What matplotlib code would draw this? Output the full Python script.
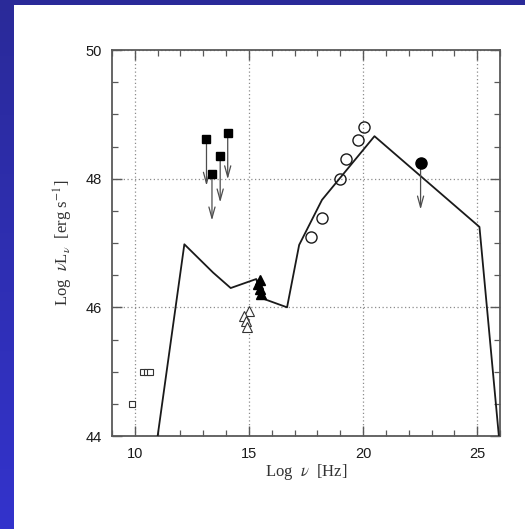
import matplotlib.pyplot as plt
import matplotlib.patches as mpatches
import numpy as np
from matplotlib.ticker import MultipleLocator

plt.rcParams['mathtext.fontset'] = 'stix'

# model SED (broken line)
model_x = [11.0, 12.17, 13.43, 14.2, 15.32, 15.58, 16.67, 17.2, 18.2, 20.5, 25.1, 25.95]
model_y = [44.0, 46.98, 46.54, 46.3, 46.44, 46.14, 46.0, 46.97, 47.67, 48.66, 47.25, 44.0]

# radio points (open squares)
radio_x = [9.88, 10.35, 10.52, 10.68]
radio_y = [44.5, 45.0, 45.0, 45.0]

# IR upper limits (filled squares)
ir_x = [13.14, 13.38, 13.74, 14.07]
ir_y = [48.61, 48.07, 48.35, 48.71]

# optical / UV (open and filled triangles)
opt_x = [15.0, 14.8, 14.85, 14.93]
opt_y = [45.95, 45.87, 45.79, 45.7]
uv_x = [15.47, 15.4, 15.47, 15.54]
uv_y = [46.43, 46.36, 46.28, 46.2]

# X-ray (open circles)
xr_x = [17.72, 18.18, 19.0, 19.27, 19.79, 20.02]
xr_y = [47.09, 47.39, 47.99, 48.31, 48.6, 48.81]

# gamma-ray upper limit (filled circle)
gam_x = [22.52]
gam_y = [48.24]

arrow_len = 0.72

fig = plt.figure(figsize=(5.25, 5.29), dpi=100)

# slide background: blue gradient with a white panel
bg = fig.add_axes([0, 0, 1, 1], zorder=-10)
grad = np.linspace(0, 1, 256).reshape(-1, 1)
top_c = np.array([0.165, 0.165, 0.60])
bot_c = np.array([0.20, 0.20, 0.80])
img = top_c[None, None, :] * (1 - grad[:, :, None]) + bot_c[None, None, :] * grad[:, :, None]
bg.imshow(img, aspect='auto', extent=[0, 1, 0, 1])
bg.add_patch(mpatches.Rectangle((14 / 525, 0), 1, 1 - 5 / 529, color='white', lw=0))
bg.set_xlim(0, 1)
bg.set_ylim(0, 1)
bg.axis('off')

ax = fig.add_axes([112 / 525, 1 - 436 / 529, 388 / 525, 386 / 529])
ax.set_xlim(9, 26)
ax.set_ylim(44, 50)

ax.grid(True, which='major', linestyle=(0, (1, 2)), color='0.55', lw=0.9)
ax.xaxis.set_major_locator(MultipleLocator(5))
ax.xaxis.set_minor_locator(MultipleLocator(1))
ax.yaxis.set_major_locator(MultipleLocator(2))
ax.yaxis.set_minor_locator(MultipleLocator(0.5))
ax.tick_params(which='both', direction='in', top=True, right=True, color='0.35')
ax.tick_params(which='major', length=7, width=1.0)
ax.tick_params(which='minor', length=4, width=0.9)
ax.tick_params(axis='x', pad=8)
ax.tick_params(axis='y', pad=7)
for lab in ax.get_xticklabels() + ax.get_yticklabels():
    lab.set_fontfamily('Liberation Sans')
    lab.set_fontsize(10.5)
    lab.set_color('0.1')
for sp in ax.spines.values():
    sp.set_color('0.35')
    sp.set_linewidth(1.3)

ax.plot(model_x, model_y, color='0.1', lw=1.3, zorder=3)

ax.plot(radio_x, radio_y, 's', mfc='white', mec='0.2', ms=5, mew=0.8, zorder=4)
ax.plot(ir_x, ir_y, 's', color='black', ms=6, zorder=5)
ax.plot(opt_x, opt_y, '^', mfc='white', mec='0.2', ms=7, mew=0.8, zorder=4)
ax.plot(uv_x, uv_y, '^', color='black', ms=7, zorder=5)
ax.plot(xr_x, xr_y, 'o', mfc='none', mec='0.1', ms=8, mew=1.0, zorder=4)
ax.plot(gam_x, gam_y, 'o', color='black', ms=8, zorder=5)

# upper-limit arrows
for x, y in zip(ir_x + gam_x, ir_y + gam_y):
    ax.annotate('', xy=(x, y - arrow_len), xytext=(x, y),
                arrowprops=dict(arrowstyle='->,head_length=0.8,head_width=0.22',
                                color='0.3', lw=0.9, shrinkA=0, shrinkB=0,
                                mutation_scale=10), zorder=4)

ax.set_xlabel(r'Log  $\nu$  [Hz]', fontfamily='Liberation Serif', fontsize=12,
              color='0.2', labelpad=1)
ax.set_ylabel(r'Log  $\nu$L$_\nu$  [erg s$^{-1}$]', fontfamily='Liberation Serif',
              fontsize=12, color='0.2', labelpad=8)

fig.savefig('out.png', dpi=100)
